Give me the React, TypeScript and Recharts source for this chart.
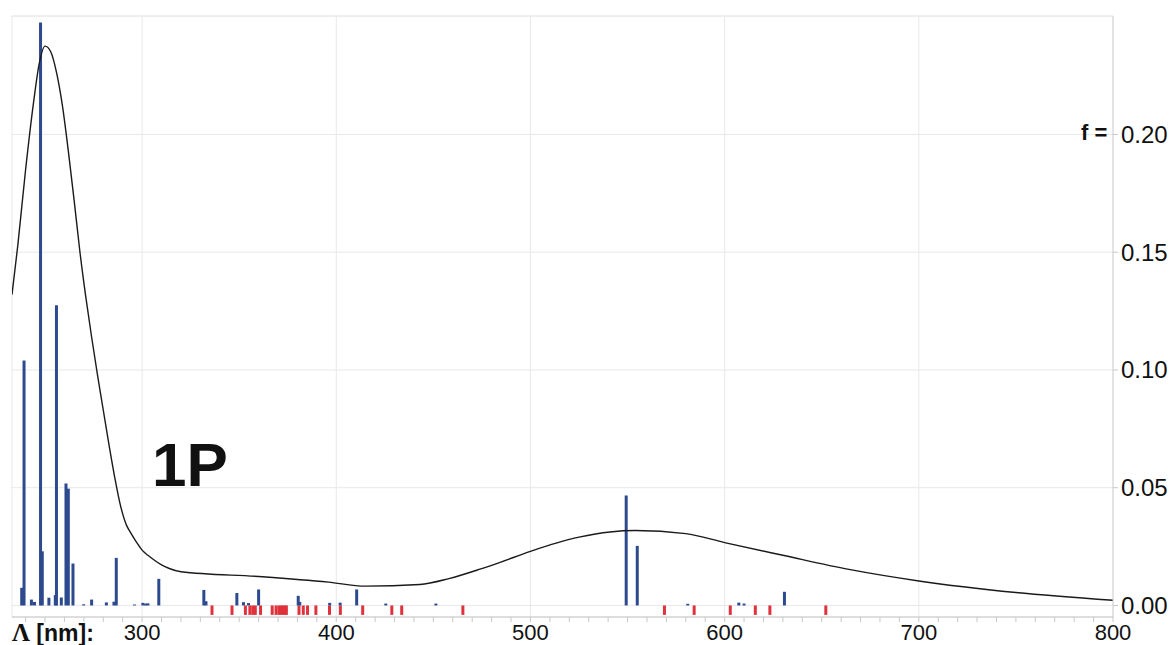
import { ComposedChart, Line, XAxis, YAxis, CartesianGrid, ReferenceLine } from "recharts";

// absorption envelope (nm, f)
const curveNm = [
  233, 236, 240, 244, 247, 250, 253, 256, 259, 262, 265, 268, 271, 274, 277, 280, 283, 286, 289, 292, 294, 297,
  300, 303, 306, 310, 314, 320, 362, 396, 415, 443, 458, 474, 484, 500, 525, 541, 554, 580, 600, 630, 664, 700,
  750, 800,
];
const curveF = [
  0.132, 0.153, 0.185, 0.213, 0.23, 0.2375, 0.235, 0.226, 0.212, 0.193, 0.172, 0.15, 0.131, 0.114, 0.098, 0.083,
  0.068, 0.054, 0.042, 0.034, 0.031, 0.027, 0.0235, 0.0213, 0.0194, 0.0172, 0.0157, 0.0143, 0.0122, 0.0099,
  0.0082, 0.0089, 0.0114, 0.0154, 0.0182, 0.023, 0.029, 0.0312, 0.0318, 0.0305, 0.0267, 0.0213, 0.0153, 0.0104,
  0.0055, 0.0022,
];

// calculated transitions (blue sticks)
const blueNm = [
  238.0, 239.2, 243.0, 244.6, 247.7, 248.6, 252.0, 255.3, 255.9, 258.4, 260.8, 262.0, 264.4, 269.9, 274.0, 281.6,
  285.5, 286.7, 296.1, 300.4, 301.8, 303.0, 308.6, 331.8, 332.9, 348.8, 352.2, 354.8, 360.0, 380.4, 381.2, 396.6,
  402.0, 410.5, 425.5, 451.3, 549.3, 555.0, 581.0, 607.3, 610.0, 630.8,
];
const blueF = [
  0.0075, 0.104, 0.0025, 0.0015, 0.2475, 0.023, 0.0033, 0.0044, 0.1275, 0.0034, 0.0518, 0.0496, 0.0178, 0.0005,
  0.0025, 0.0013, 0.0016, 0.0202, 0.0004, 0.0011, 0.0008, 0.0009, 0.0113, 0.0066, 0.0018, 0.0053, 0.0014, 0.001,
  0.0068, 0.0041, 0.0015, 0.0011, 0.0012, 0.0068, 0.0008, 0.0008, 0.0467, 0.0253, 0.0007, 0.0012, 0.0008, 0.0058,
];

// dark states (red marks below the baseline)
const redNm = [
  336.0, 346.3, 353.2, 355.5, 357.0, 358.3, 361.0, 367.0, 369.0, 370.5, 371.5, 372.5, 373.5, 374.3, 380.8, 383.0,
  385.2, 389.5, 396.5, 402.1, 413.6, 428.6, 433.7, 465.2, 569.0, 584.3, 602.9, 615.8, 623.3, 652.1,
];
const RED_DEPTH = -0.004;

const yTicks = [0, 0.05, 0.1, 0.15, 0.2];
const xTicks = Array.from({ length: 57 }, (_, i) => 240 + i * 10);
const gridNm = [300, 400, 500, 600, 700];

const curve = curveNm.map((nm, i) => ({ nm, f: curveF[i] }));

const font = '"Liberation Sans", Arial, sans-serif';
const Y_MIN = -0.0049;
const Y_MAX = 0.2503;

export default function App() {
  return (
    <div style={{ position: "absolute", left: 0, top: 0, width: 1175, height: 645, background: "#fff" }}>
      <ComposedChart width={1175} height={645} data={curve} margin={{ top: 16, right: 0, left: 12, bottom: 0 }}>
        <CartesianGrid vertical={false} stroke="#e8e8ec" />
        <XAxis
          dataKey="nm"
          type="number"
          domain={[233, 800]}
          allowDataOverflow
          ticks={xTicks}
          interval={0}
          height={28}
          tickSize={5}
          tickMargin={2}
          stroke="#c8c8cc"
          tick={{ fill: "#111", fontSize: 22, fontFamily: font }}
          tickFormatter={(v: number) => (v % 100 === 0 ? String(v) : "")}
        />
        <YAxis
          orientation="right"
          type="number"
          domain={[Y_MIN, Y_MAX]}
          allowDataOverflow
          ticks={yTicks}
          width={62}
          tickSize={5}
          tickMargin={3}
          stroke="#c8c8cc"
          tick={{ fill: "#111", fontSize: 24, fontFamily: font, textAnchor: "start" }}
          tickFormatter={(v: number) => v.toFixed(2)}
        />
        {gridNm.map((nm) => (
          <ReferenceLine key={"g" + nm} x={nm} stroke="#e8e8ec" />
        ))}
        <ReferenceLine y={Y_MAX} stroke="#e8e8ec" />
        <ReferenceLine x={233} stroke="#e8e8ec" />
        {redNm.map((nm, i) => (
          <ReferenceLine
            key={"r" + i}
            segment={[
              { x: nm, y: 0 },
              { x: nm, y: RED_DEPTH },
            ]}
            stroke="#e0323c"
            strokeWidth={3}
          />
        ))}
        {blueNm.map((nm, i) => (
          <ReferenceLine
            key={"b" + i}
            segment={[
              { x: nm, y: 0 },
              { x: nm, y: blueF[i] },
            ]}
            stroke="#2d4a8e"
            strokeWidth={3}
          />
        ))}
        <Line
          dataKey="f"
          type="monotone"
          stroke="#1a1a1a"
          strokeWidth={1.4}
          dot={false}
          activeDot={false}
          isAnimationActive={false}
        />
      </ComposedChart>
      <div
        style={{
          position: "absolute",
          left: 152,
          top: 434,
          fontFamily: font,
          fontWeight: "bold",
          fontSize: 62,
          color: "#111",
          lineHeight: "62px",
        }}
      >
        1P
      </div>
      <div
        style={{
          position: "absolute",
          left: 1081,
          top: 120,
          fontFamily: font,
          fontWeight: "bold",
          fontSize: 22,
          color: "#111",
          lineHeight: "26px",
        }}
      >
        f =
      </div>
      <div
        style={{
          position: "absolute",
          left: 12,
          top: 621,
          fontFamily: font,
          fontWeight: "bold",
          fontSize: 23,
          color: "#111",
          lineHeight: "24px",
          whiteSpace: "nowrap",
        }}
      >
        <span style={{ fontFamily: '"Liberation Serif", "Times New Roman", serif', fontSize: 25 }}>Λ</span> [nm]:
      </div>
    </div>
  );
}
